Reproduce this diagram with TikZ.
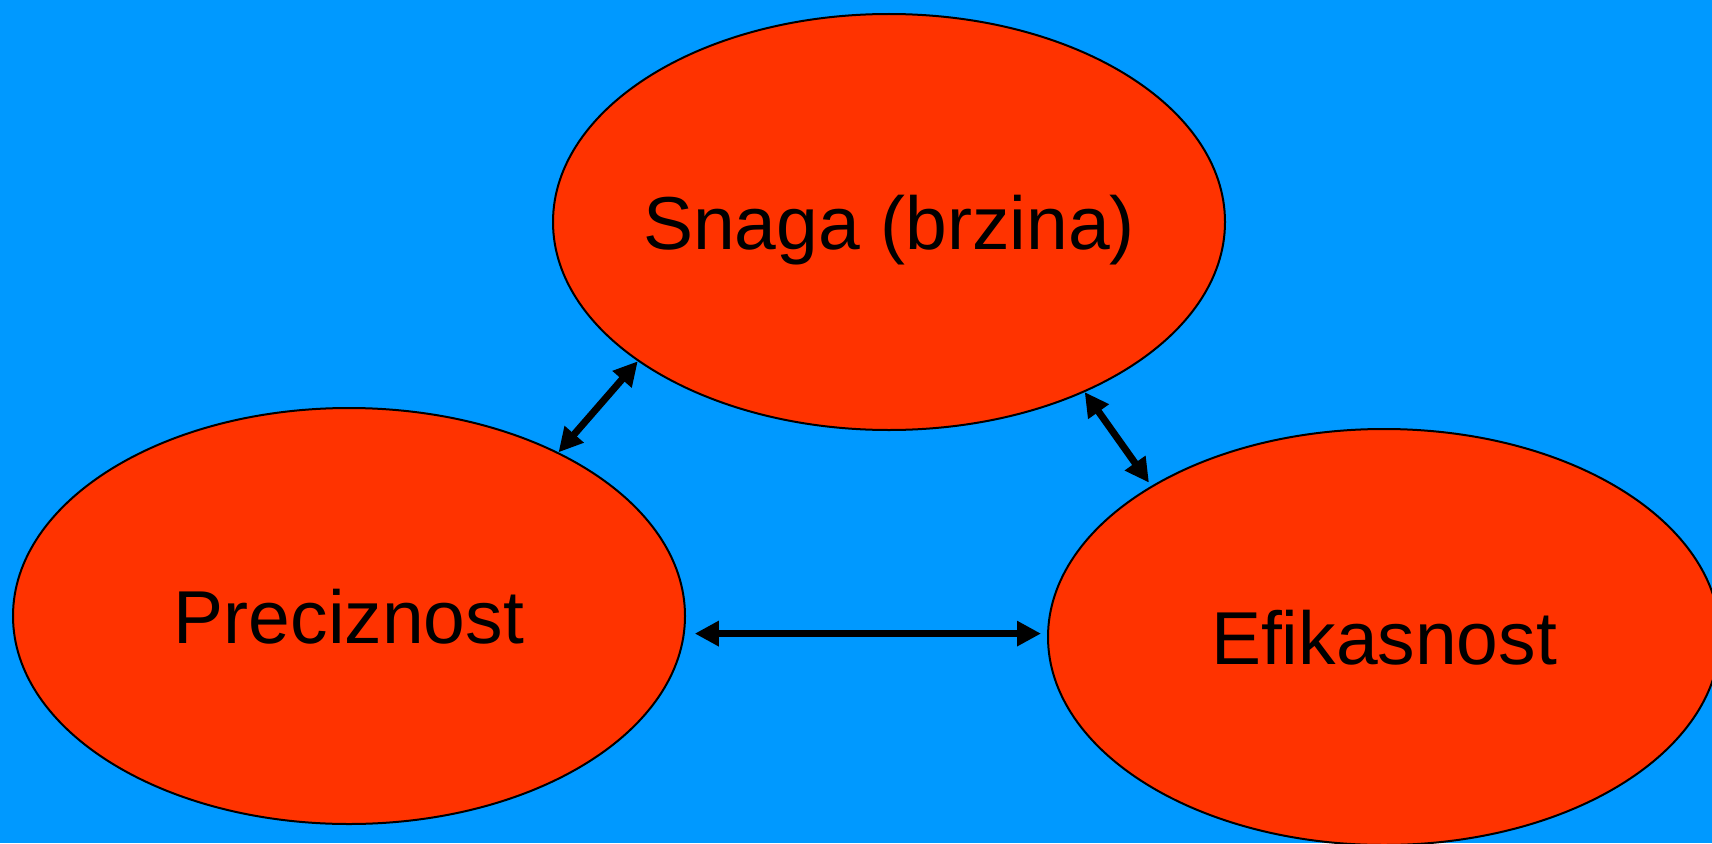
\documentclass[tikz,border=0pt]{standalone}
\usepackage{fontspec}
\setmainfont{Liberation Sans}
\usetikzlibrary{shapes.geometric,arrows.meta}
\definecolor{skyblue}{RGB}{0,153,255}
\definecolor{hotred}{RGB}{255,51,0}

\begin{document}
\begin{tikzpicture}[
  blob/.style={ellipse,draw=black,line width=1pt,fill=hotred,
               inner xsep=-12pt,inner ysep=0pt,
               minimum width=336pt,minimum height=208pt,
               text height=27pt,text depth=0pt,
               font=\fontsize{37.5}{45}\selectfont},
  arr/.style={{Triangle[length=12pt,width=12pt]}-{Triangle[length=12pt,width=12pt]},
              line width=3.5pt,black},
]
\useasboundingbox[fill=skyblue] (0,0) rectangle (856pt,421.5pt);
\clip (0,0) rectangle (856pt,421.5pt);
\node[blob] (snaga) at (444.5pt,310.5pt) {Snaga (brzina)};
\node[blob] (prec) at (174.5pt,113.5pt) {Preciznost};
\node[blob] (efik) at (692pt,103pt) {Efikasnost};
\draw[arr] (prec.38) -- (snaga.209);
\draw[arr,shorten >=2pt] (snaga.319) -- (efik.147);
\draw[arr,shorten <=5pt,shorten >=3pt] (prec.357) -- (prec.357 -| efik.west);
\end{tikzpicture}
\end{document}
